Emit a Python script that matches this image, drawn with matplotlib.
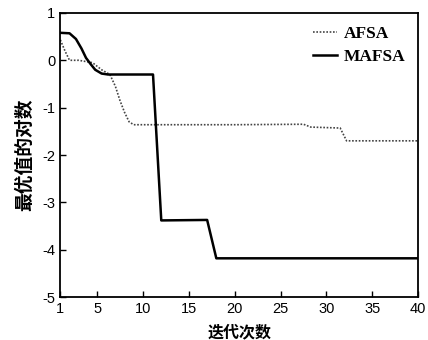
import numpy as np
import matplotlib
matplotlib.use("Agg")
from matplotlib import pyplot as plt

plt.rcParams['font.family'] = ['Liberation Sans', 'DejaVu Sans']
plt.rcParams['axes.unicode_minus'] = False

# 迭代次数 / 最优值的对数
afsa_x = [1, 1.5, 2, 3, 4.5, 5.5, 6.4, 7, 7.5, 8, 8.5, 9, 15, 20, 27.5, 28.3, 31.5, 32.2, 40]
afsa_y = [0.43, 0.2, 0.0, 0.0, -0.05, -0.2, -0.3, -0.55, -0.85, -1.1, -1.3, -1.36, -1.36, -1.36, -1.35, -1.41, -1.43, -1.7, -1.7]

mafsa_x = [1, 2, 2.7, 3.3, 3.8, 4.3, 4.8, 5.5, 6.2, 11.1, 12.0, 17.0, 18.0, 40]
mafsa_y = [0.58, 0.57, 0.45, 0.25, 0.05, -0.08, -0.2, -0.28, -0.3, -0.3, -3.38, -3.37, -4.18, -4.18]

xticks = [1, 5, 10, 15, 20, 25, 30, 35, 40]
yticks = [1, 0, -1, -2, -3, -4, -5]

fig = plt.figure(figsize=(4.28, 3.4), dpi=100)
ax = fig.add_axes([0.141, 0.126, 0.836, 0.836])

ax.plot(afsa_x, afsa_y, color='#444444', linestyle=(0, (1, 1)), linewidth=1.2, label='AFSA')
ax.plot(mafsa_x, mafsa_y, color='black', linestyle='-', linewidth=1.8, label='MAFSA')

ax.set_xlim(1, 40)
ax.set_ylim(-5, 1)
ax.set_xticks(xticks)
ax.set_yticks(yticks)
ax.tick_params(direction='in', labelsize=10.5, length=4, width=1)
for s in ax.spines.values():
    s.set_linewidth(1.3)

ax.set_xlabel('迭代次数', family=['Noto Sans CJK SC'], fontsize=11.5, fontweight='bold', labelpad=6)
ax.set_ylabel('最优值的对数', family=['Noto Sans CJK SC'], fontsize=13.5, fontweight='bold', labelpad=6)

leg = ax.legend(loc='upper right', frameon=False, handlelength=1.35, handletextpad=0.4,
                borderpad=0, borderaxespad=0.75, labelspacing=0.4,
                prop={'family': 'Liberation Serif', 'weight': 'bold', 'size': 12.5})

fig.savefig('out.png', dpi=100)
